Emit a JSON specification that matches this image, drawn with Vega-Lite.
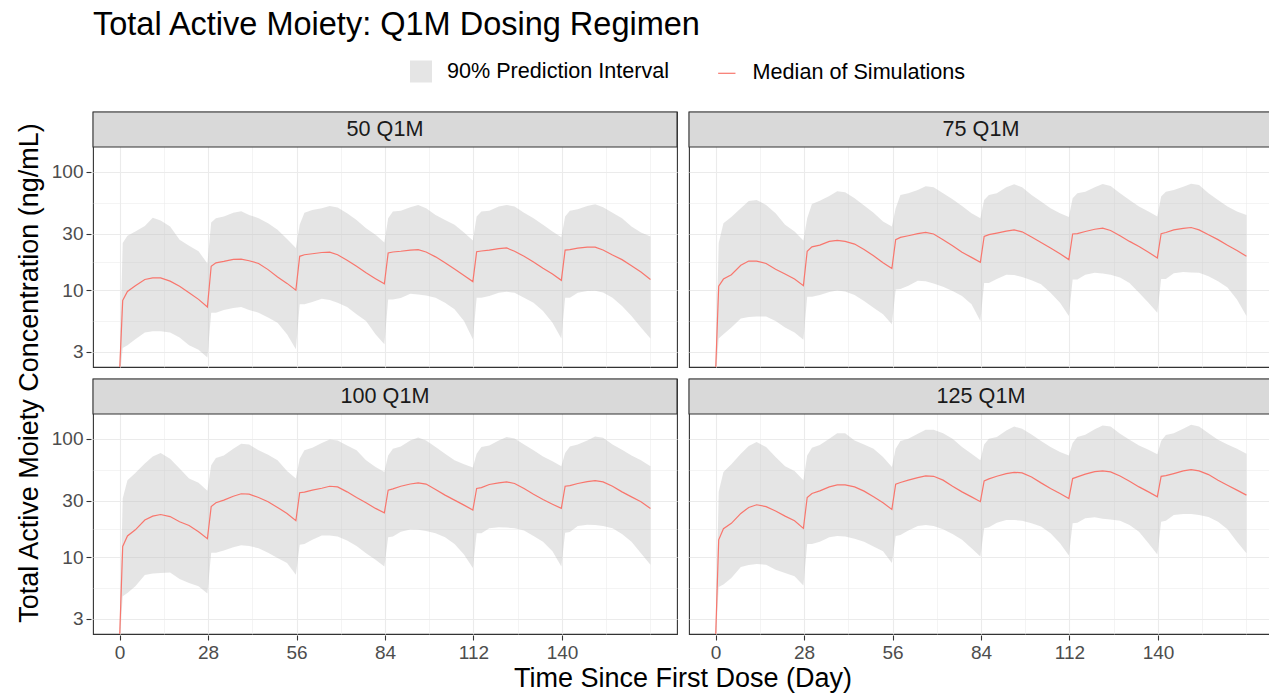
{
  "$schema": "https://vega.github.io/schema/vega-lite/v6.json",
  "background": "white",
  "padding": {"left": 15, "top": 9, "right": 0, "bottom": 2},
  "title": {"text": "Total Active Moiety: Q1M Dosing Regimen", "anchor": "start", "frame": "group", "fontSize": 32.5, "font": "Liberation Sans", "fontWeight": "normal", "color": "#000000", "offset": 19},
  "data": {"values": [
    {"panel":"50 Q1M","t":0,"m":2.0,"lo":1.8,"hi":2.2},
    {"panel":"50 Q1M","t":1,"m":8.19,"lo":3.24,"hi":25.0},
    {"panel":"50 Q1M","t":2.5,"m":9.75,"lo":3.42,"hi":28.8},
    {"panel":"50 Q1M","t":5,"m":10.9,"lo":3.85,"hi":31.3},
    {"panel":"50 Q1M","t":8,"m":12.3,"lo":4.38,"hi":34.9},
    {"panel":"50 Q1M","t":10.5,"m":12.7,"lo":4.49,"hi":40.8},
    {"panel":"50 Q1M","t":13,"m":12.7,"lo":4.49,"hi":38.7},
    {"panel":"50 Q1M","t":16,"m":11.9,"lo":4.38,"hi":34.5},
    {"panel":"50 Q1M","t":19,"m":10.8,"lo":3.98,"hi":26.7},
    {"panel":"50 Q1M","t":22,"m":9.5,"lo":3.42,"hi":23.7},
    {"panel":"50 Q1M","t":25,"m":8.35,"lo":3.13,"hi":21.3},
    {"panel":"50 Q1M","t":27.8,"m":7.19,"lo":2.7,"hi":16.8},
    {"panel":"50 Q1M","t":29,"m":15.9,"lo":6.45,"hi":37.3},
    {"panel":"50 Q1M","t":30.5,"m":17.0,"lo":6.45,"hi":40.5},
    {"panel":"50 Q1M","t":33,"m":17.5,"lo":6.79,"hi":41.9},
    {"panel":"50 Q1M","t":36,"m":18.2,"lo":7.06,"hi":45.0},
    {"panel":"50 Q1M","t":38.5,"m":18.3,"lo":7.19,"hi":46.4},
    {"panel":"50 Q1M","t":41,"m":17.7,"lo":6.79,"hi":43.2},
    {"panel":"50 Q1M","t":44,"m":16.8,"lo":6.45,"hi":40.5},
    {"panel":"50 Q1M","t":47,"m":14.9,"lo":5.86,"hi":36.8},
    {"panel":"50 Q1M","t":50,"m":12.9,"lo":5.31,"hi":32.3},
    {"panel":"50 Q1M","t":53,"m":11.4,"lo":4.24,"hi":27.0},
    {"panel":"50 Q1M","t":55.8,"m":10.0,"lo":3.17,"hi":22.7},
    {"panel":"50 Q1M","t":57,"m":19.3,"lo":7.58,"hi":35.6},
    {"panel":"50 Q1M","t":58.5,"m":19.9,"lo":7.58,"hi":45.0},
    {"panel":"50 Q1M","t":61,"m":20.3,"lo":7.93,"hi":47.6},
    {"panel":"50 Q1M","t":64,"m":20.8,"lo":8.46,"hi":49.2},
    {"panel":"50 Q1M","t":66.5,"m":20.9,"lo":8.24,"hi":51.5},
    {"panel":"50 Q1M","t":69,"m":19.9,"lo":7.83,"hi":49.8},
    {"panel":"50 Q1M","t":72,"m":17.9,"lo":7.19,"hi":44.7},
    {"panel":"50 Q1M","t":75,"m":15.9,"lo":6.25,"hi":39.2},
    {"panel":"50 Q1M","t":78,"m":14.0,"lo":5.49,"hi":33.4},
    {"panel":"50 Q1M","t":81,"m":12.5,"lo":4.24,"hi":29.4},
    {"panel":"50 Q1M","t":83.8,"m":11.3,"lo":3.49,"hi":25.3},
    {"panel":"50 Q1M","t":85,"m":20.6,"lo":8.35,"hi":40.5},
    {"panel":"50 Q1M","t":86.5,"m":21.0,"lo":8.35,"hi":46.1},
    {"panel":"50 Q1M","t":89,"m":21.3,"lo":8.57,"hi":46.9},
    {"panel":"50 Q1M","t":92,"m":21.8,"lo":9.32,"hi":50.2},
    {"panel":"50 Q1M","t":94.5,"m":22.0,"lo":9.2,"hi":52.5},
    {"panel":"50 Q1M","t":97,"m":21.0,"lo":9.02,"hi":49.2},
    {"panel":"50 Q1M","t":100,"m":19.1,"lo":8.62,"hi":43.2},
    {"panel":"50 Q1M","t":103,"m":17.0,"lo":7.83,"hi":39.2},
    {"panel":"50 Q1M","t":106,"m":15.1,"lo":6.88,"hi":35.6},
    {"panel":"50 Q1M","t":109,"m":13.3,"lo":5.49,"hi":30.7},
    {"panel":"50 Q1M","t":111.8,"m":11.8,"lo":3.85,"hi":26.3},
    {"panel":"50 Q1M","t":113,"m":21.1,"lo":8.62,"hi":41.9},
    {"panel":"50 Q1M","t":114.5,"m":21.4,"lo":8.62,"hi":46.1},
    {"panel":"50 Q1M","t":117,"m":21.8,"lo":8.9,"hi":46.9},
    {"panel":"50 Q1M","t":120,"m":22.4,"lo":9.5,"hi":50.8},
    {"panel":"50 Q1M","t":122.5,"m":22.7,"lo":9.69,"hi":52.5},
    {"panel":"50 Q1M","t":125,"m":21.3,"lo":9.5,"hi":50.8},
    {"panel":"50 Q1M","t":128,"m":19.3,"lo":8.62,"hi":45.0},
    {"panel":"50 Q1M","t":131,"m":17.3,"lo":7.83,"hi":40.5},
    {"panel":"50 Q1M","t":134,"m":15.3,"lo":6.66,"hi":35.6},
    {"panel":"50 Q1M","t":137,"m":13.7,"lo":5.31,"hi":31.3},
    {"panel":"50 Q1M","t":139.8,"m":12.1,"lo":3.9,"hi":28.0},
    {"panel":"50 Q1M","t":141,"m":21.8,"lo":8.62,"hi":41.9},
    {"panel":"50 Q1M","t":142.5,"m":22.0,"lo":8.62,"hi":46.9},
    {"panel":"50 Q1M","t":145,"m":22.6,"lo":9.5,"hi":48.2},
    {"panel":"50 Q1M","t":148,"m":23.1,"lo":9.81,"hi":51.5},
    {"panel":"50 Q1M","t":150.5,"m":23.1,"lo":9.88,"hi":53.2},
    {"panel":"50 Q1M","t":153,"m":21.8,"lo":9.56,"hi":50.2},
    {"panel":"50 Q1M","t":156,"m":19.8,"lo":8.62,"hi":45.0},
    {"panel":"50 Q1M","t":159,"m":18.1,"lo":7.34,"hi":40.5},
    {"panel":"50 Q1M","t":162,"m":16.1,"lo":6.05,"hi":34.5},
    {"panel":"50 Q1M","t":165,"m":14.2,"lo":4.83,"hi":30.7},
    {"panel":"50 Q1M","t":168,"m":12.3,"lo":3.9,"hi":28.4},

    {"panel":"75 Q1M","t":0,"m":2.0,"lo":1.8,"hi":2.2},
    {"panel":"75 Q1M","t":1,"m":10.8,"lo":3.9,"hi":25.0},
    {"panel":"75 Q1M","t":2.5,"m":12.4,"lo":4.24,"hi":36.8},
    {"panel":"75 Q1M","t":5,"m":13.5,"lo":4.83,"hi":41.4},
    {"panel":"75 Q1M","t":8,"m":16.2,"lo":5.75,"hi":49.2},
    {"panel":"75 Q1M","t":10.5,"m":17.6,"lo":5.93,"hi":56.7},
    {"panel":"75 Q1M","t":13,"m":17.6,"lo":5.97,"hi":57.8},
    {"panel":"75 Q1M","t":16,"m":16.8,"lo":5.97,"hi":52.5},
    {"panel":"75 Q1M","t":19,"m":15.0,"lo":5.49,"hi":44.7},
    {"panel":"75 Q1M","t":22,"m":13.7,"lo":4.83,"hi":35.6},
    {"panel":"75 Q1M","t":25,"m":12.4,"lo":4.38,"hi":31.3},
    {"panel":"75 Q1M","t":27.8,"m":10.9,"lo":3.8,"hi":26.2},
    {"panel":"75 Q1M","t":29,"m":21.3,"lo":8.79,"hi":40.5},
    {"panel":"75 Q1M","t":30.5,"m":23.2,"lo":8.79,"hi":53.5},
    {"panel":"75 Q1M","t":33,"m":24.0,"lo":9.08,"hi":57.0},
    {"panel":"75 Q1M","t":36,"m":25.8,"lo":9.62,"hi":62.5},
    {"panel":"75 Q1M","t":38.5,"m":26.3,"lo":9.93,"hi":68.4},
    {"panel":"75 Q1M","t":41,"m":25.8,"lo":9.75,"hi":67.0},
    {"panel":"75 Q1M","t":44,"m":24.5,"lo":9.08,"hi":59.7},
    {"panel":"75 Q1M","t":47,"m":22.0,"lo":8.09,"hi":51.8},
    {"panel":"75 Q1M","t":50,"m":19.5,"lo":7.1,"hi":45.0},
    {"panel":"75 Q1M","t":53,"m":17.0,"lo":6.25,"hi":38.0},
    {"panel":"75 Q1M","t":55.8,"m":15.2,"lo":5.15,"hi":34.5},
    {"panel":"75 Q1M","t":57,"m":26.7,"lo":10.1,"hi":49.2},
    {"panel":"75 Q1M","t":58.5,"m":27.9,"lo":10.2,"hi":63.7},
    {"panel":"75 Q1M","t":61,"m":28.8,"lo":10.9,"hi":65.8},
    {"panel":"75 Q1M","t":64,"m":30.0,"lo":12.0,"hi":70.1},
    {"panel":"75 Q1M","t":66.5,"m":30.7,"lo":11.9,"hi":75.3},
    {"panel":"75 Q1M","t":69,"m":29.8,"lo":11.4,"hi":73.9},
    {"panel":"75 Q1M","t":72,"m":26.7,"lo":10.7,"hi":65.8},
    {"panel":"75 Q1M","t":75,"m":23.7,"lo":9.81,"hi":58.5},
    {"panel":"75 Q1M","t":78,"m":20.9,"lo":8.9,"hi":51.5},
    {"panel":"75 Q1M","t":81,"m":18.9,"lo":7.58,"hi":44.7},
    {"panel":"75 Q1M","t":83.8,"m":17.2,"lo":5.49,"hi":40.5},
    {"panel":"75 Q1M","t":85,"m":28.4,"lo":11.5,"hi":57.8},
    {"panel":"75 Q1M","t":86.5,"m":29.4,"lo":11.5,"hi":63.7},
    {"panel":"75 Q1M","t":89,"m":30.3,"lo":12.4,"hi":65.8},
    {"panel":"75 Q1M","t":92,"m":31.5,"lo":13.5,"hi":73.9},
    {"panel":"75 Q1M","t":94.5,"m":32.3,"lo":13.4,"hi":78.3},
    {"panel":"75 Q1M","t":97,"m":31.1,"lo":12.9,"hi":73.9},
    {"panel":"75 Q1M","t":100,"m":28.1,"lo":12.1,"hi":63.7},
    {"panel":"75 Q1M","t":103,"m":25.3,"lo":11.2,"hi":56.0},
    {"panel":"75 Q1M","t":106,"m":22.7,"lo":9.5,"hi":49.2},
    {"panel":"75 Q1M","t":109,"m":20.3,"lo":7.83,"hi":44.7},
    {"panel":"75 Q1M","t":111.8,"m":18.1,"lo":6.05,"hi":41.4},
    {"panel":"75 Q1M","t":113,"m":29.8,"lo":12.3,"hi":59.7},
    {"panel":"75 Q1M","t":114.5,"m":30.0,"lo":12.3,"hi":65.8},
    {"panel":"75 Q1M","t":117,"m":31.3,"lo":13.5,"hi":67.9},
    {"panel":"75 Q1M","t":120,"m":32.7,"lo":14.0,"hi":73.9},
    {"panel":"75 Q1M","t":122.5,"m":33.4,"lo":13.8,"hi":78.8},
    {"panel":"75 Q1M","t":125,"m":31.9,"lo":13.5,"hi":75.8},
    {"panel":"75 Q1M","t":128,"m":28.8,"lo":12.8,"hi":65.8},
    {"panel":"75 Q1M","t":131,"m":25.8,"lo":11.5,"hi":57.8},
    {"panel":"75 Q1M","t":134,"m":23.4,"lo":9.5,"hi":50.8},
    {"panel":"75 Q1M","t":137,"m":20.9,"lo":7.83,"hi":46.1},
    {"panel":"75 Q1M","t":139.8,"m":18.7,"lo":6.45,"hi":41.9},
    {"panel":"75 Q1M","t":141,"m":30.0,"lo":12.4,"hi":61.7},
    {"panel":"75 Q1M","t":142.5,"m":30.7,"lo":12.4,"hi":67.9},
    {"panel":"75 Q1M","t":145,"m":32.3,"lo":13.9,"hi":70.1},
    {"panel":"75 Q1M","t":148,"m":33.2,"lo":14.2,"hi":74.8},
    {"panel":"75 Q1M","t":150.5,"m":33.8,"lo":14.1,"hi":79.3},
    {"panel":"75 Q1M","t":153,"m":32.3,"lo":14.0,"hi":77.3},
    {"panel":"75 Q1M","t":156,"m":29.4,"lo":13.1,"hi":65.8},
    {"panel":"75 Q1M","t":159,"m":26.7,"lo":11.9,"hi":57.8},
    {"panel":"75 Q1M","t":162,"m":23.9,"lo":10.5,"hi":50.8},
    {"panel":"75 Q1M","t":165,"m":21.6,"lo":8.35,"hi":46.1},
    {"panel":"75 Q1M","t":168,"m":19.3,"lo":6.05,"hi":43.2},

    {"panel":"100 Q1M","t":0,"m":2.0,"lo":1.8,"hi":2.2},
    {"panel":"100 Q1M","t":1,"m":12.3,"lo":4.67,"hi":31.3},
    {"panel":"100 Q1M","t":2.5,"m":15.1,"lo":4.98,"hi":44.7},
    {"panel":"100 Q1M","t":5,"m":17.0,"lo":5.67,"hi":51.5},
    {"panel":"100 Q1M","t":8,"m":20.6,"lo":7.06,"hi":61.7},
    {"panel":"100 Q1M","t":10.5,"m":22.2,"lo":7.27,"hi":71.0},
    {"panel":"100 Q1M","t":13,"m":22.9,"lo":7.34,"hi":75.8},
    {"panel":"100 Q1M","t":16,"m":22.0,"lo":7.42,"hi":67.9},
    {"panel":"100 Q1M","t":19,"m":19.9,"lo":6.53,"hi":56.0},
    {"panel":"100 Q1M","t":22,"m":18.5,"lo":6.05,"hi":46.1},
    {"panel":"100 Q1M","t":25,"m":16.4,"lo":5.67,"hi":42.4},
    {"panel":"100 Q1M","t":27.8,"m":14.3,"lo":4.92,"hi":36.3},
    {"panel":"100 Q1M","t":29,"m":26.7,"lo":10.9,"hi":59.7},
    {"panel":"100 Q1M","t":30.5,"m":28.8,"lo":10.9,"hi":68.8},
    {"panel":"100 Q1M","t":33,"m":30.3,"lo":11.4,"hi":72.4},
    {"panel":"100 Q1M","t":36,"m":32.7,"lo":12.1,"hi":82.4},
    {"panel":"100 Q1M","t":38.5,"m":34.3,"lo":12.6,"hi":90.8},
    {"panel":"100 Q1M","t":41,"m":34.0,"lo":12.4,"hi":89.6},
    {"panel":"100 Q1M","t":44,"m":31.9,"lo":11.9,"hi":79.8},
    {"panel":"100 Q1M","t":47,"m":29.4,"lo":10.9,"hi":73.4},
    {"panel":"100 Q1M","t":50,"m":26.3,"lo":9.81,"hi":65.8},
    {"panel":"100 Q1M","t":53,"m":23.4,"lo":8.9,"hi":53.5},
    {"panel":"100 Q1M","t":55.8,"m":20.3,"lo":7.1,"hi":46.1},
    {"panel":"100 Q1M","t":57,"m":35.0,"lo":12.7,"hi":67.9},
    {"panel":"100 Q1M","t":58.5,"m":35.4,"lo":12.9,"hi":79.8},
    {"panel":"100 Q1M","t":61,"m":36.8,"lo":14.0,"hi":84.0},
    {"panel":"100 Q1M","t":64,"m":38.2,"lo":15.2,"hi":91.9},
    {"panel":"100 Q1M","t":66.5,"m":39.7,"lo":15.2,"hi":98.7},
    {"panel":"100 Q1M","t":69,"m":39.2,"lo":14.9,"hi":96.8},
    {"panel":"100 Q1M","t":72,"m":35.6,"lo":13.8,"hi":87.9},
    {"panel":"100 Q1M","t":75,"m":31.9,"lo":12.4,"hi":79.8},
    {"panel":"100 Q1M","t":78,"m":28.8,"lo":10.8,"hi":65.8},
    {"panel":"100 Q1M","t":81,"m":25.8,"lo":9.5,"hi":57.8},
    {"panel":"100 Q1M","t":83.8,"m":23.7,"lo":8.35,"hi":52.5},
    {"panel":"100 Q1M","t":85,"m":36.8,"lo":14.7,"hi":72.4},
    {"panel":"100 Q1M","t":86.5,"m":37.7,"lo":14.9,"hi":82.4},
    {"panel":"100 Q1M","t":89,"m":39.7,"lo":16.4,"hi":86.2},
    {"panel":"100 Q1M","t":92,"m":41.5,"lo":17.1,"hi":96.8},
    {"panel":"100 Q1M","t":94.5,"m":42.4,"lo":17.0,"hi":102.6},
    {"panel":"100 Q1M","t":97,"m":41.4,"lo":16.6,"hi":96.8},
    {"panel":"100 Q1M","t":100,"m":37.3,"lo":15.9,"hi":85.1},
    {"panel":"100 Q1M","t":103,"m":33.4,"lo":14.7,"hi":74.8},
    {"panel":"100 Q1M","t":106,"m":30.3,"lo":12.9,"hi":65.8},
    {"panel":"100 Q1M","t":109,"m":27.5,"lo":10.5,"hi":60.9},
    {"panel":"100 Q1M","t":111.8,"m":25.0,"lo":8.09,"hi":57.1},
    {"panel":"100 Q1M","t":113,"m":38.0,"lo":15.9,"hi":74.8},
    {"panel":"100 Q1M","t":114.5,"m":38.7,"lo":15.9,"hi":85.1},
    {"panel":"100 Q1M","t":117,"m":41.1,"lo":17.5,"hi":87.9},
    {"panel":"100 Q1M","t":120,"m":42.4,"lo":17.9,"hi":96.8},
    {"panel":"100 Q1M","t":122.5,"m":43.2,"lo":17.8,"hi":103.3},
    {"panel":"100 Q1M","t":125,"m":41.9,"lo":17.5,"hi":100.6},
    {"panel":"100 Q1M","t":128,"m":38.0,"lo":16.8,"hi":89.6},
    {"panel":"100 Q1M","t":131,"m":34.0,"lo":15.1,"hi":79.8},
    {"panel":"100 Q1M","t":134,"m":30.7,"lo":13.5,"hi":71.0},
    {"panel":"100 Q1M","t":137,"m":28.0,"lo":11.2,"hi":64.5},
    {"panel":"100 Q1M","t":139.8,"m":25.8,"lo":8.35,"hi":58.5},
    {"panel":"100 Q1M","t":141,"m":39.7,"lo":16.1,"hi":75.8},
    {"panel":"100 Q1M","t":142.5,"m":40.2,"lo":16.3,"hi":86.2},
    {"panel":"100 Q1M","t":145,"m":41.9,"lo":18.3,"hi":89.6},
    {"panel":"100 Q1M","t":148,"m":43.5,"lo":18.8,"hi":96.8},
    {"panel":"100 Q1M","t":150.5,"m":44.3,"lo":18.7,"hi":104.6},
    {"panel":"100 Q1M","t":153,"m":43.2,"lo":18.3,"hi":102.0},
    {"panel":"100 Q1M","t":156,"m":39.7,"lo":17.5,"hi":89.6},
    {"panel":"100 Q1M","t":159,"m":35.6,"lo":15.7,"hi":80.8},
    {"panel":"100 Q1M","t":162,"m":32.3,"lo":13.5,"hi":72.4},
    {"panel":"100 Q1M","t":165,"m":29.4,"lo":10.8,"hi":65.8},
    {"panel":"100 Q1M","t":168,"m":25.8,"lo":8.62,"hi":58.5},

    {"panel":"125 Q1M","t":0,"m":2.0,"lo":1.8,"hi":2.2},
    {"panel":"125 Q1M","t":1,"m":14.0,"lo":5.6,"hi":35.6},
    {"panel":"125 Q1M","t":2.5,"m":17.4,"lo":5.86,"hi":52.5},
    {"panel":"125 Q1M","t":5,"m":19.3,"lo":6.66,"hi":60.9},
    {"panel":"125 Q1M","t":8,"m":23.4,"lo":8.24,"hi":74.8},
    {"panel":"125 Q1M","t":10.5,"m":26.3,"lo":8.57,"hi":86.8},
    {"panel":"125 Q1M","t":13,"m":27.7,"lo":8.74,"hi":93.8},
    {"panel":"125 Q1M","t":16,"m":26.7,"lo":8.62,"hi":85.1},
    {"panel":"125 Q1M","t":19,"m":24.5,"lo":7.83,"hi":70.1},
    {"panel":"125 Q1M","t":22,"m":22.2,"lo":7.34,"hi":58.5},
    {"panel":"125 Q1M","t":25,"m":20.3,"lo":6.88,"hi":53.5},
    {"panel":"125 Q1M","t":27.8,"m":17.5,"lo":5.75,"hi":44.7},
    {"panel":"125 Q1M","t":29,"m":31.9,"lo":12.9,"hi":72.4},
    {"panel":"125 Q1M","t":30.5,"m":34.5,"lo":12.9,"hi":84.0},
    {"panel":"125 Q1M","t":33,"m":36.3,"lo":13.5,"hi":88.5},
    {"panel":"125 Q1M","t":36,"m":39.2,"lo":14.7,"hi":100.0},
    {"panel":"125 Q1M","t":38.5,"m":40.8,"lo":15.1,"hi":111.6},
    {"panel":"125 Q1M","t":41,"m":40.8,"lo":14.9,"hi":111.6},
    {"panel":"125 Q1M","t":44,"m":39.2,"lo":14.3,"hi":96.8},
    {"panel":"125 Q1M","t":47,"m":36.1,"lo":13.5,"hi":89.6},
    {"panel":"125 Q1M","t":50,"m":32.3,"lo":12.3,"hi":82.4},
    {"panel":"125 Q1M","t":53,"m":28.8,"lo":11.2,"hi":70.1},
    {"panel":"125 Q1M","t":55.8,"m":25.3,"lo":8.9,"hi":57.8},
    {"panel":"125 Q1M","t":57,"m":41.4,"lo":15.1,"hi":82.4},
    {"panel":"125 Q1M","t":58.5,"m":42.7,"lo":15.4,"hi":95.6},
    {"panel":"125 Q1M","t":61,"m":44.7,"lo":16.8,"hi":100.0},
    {"panel":"125 Q1M","t":64,"m":47.0,"lo":18.3,"hi":110.2},
    {"panel":"125 Q1M","t":66.5,"m":48.5,"lo":18.7,"hi":119.0},
    {"panel":"125 Q1M","t":69,"m":48.2,"lo":18.3,"hi":119.0},
    {"panel":"125 Q1M","t":72,"m":44.7,"lo":17.2,"hi":111.6},
    {"panel":"125 Q1M","t":75,"m":39.7,"lo":15.7,"hi":100.0},
    {"panel":"125 Q1M","t":78,"m":35.6,"lo":14.0,"hi":85.1},
    {"panel":"125 Q1M","t":81,"m":32.3,"lo":11.9,"hi":74.8},
    {"panel":"125 Q1M","t":83.8,"m":29.4,"lo":10.1,"hi":65.8},
    {"panel":"125 Q1M","t":85,"m":44.0,"lo":17.5,"hi":89.6},
    {"panel":"125 Q1M","t":86.5,"m":45.8,"lo":17.9,"hi":100.0},
    {"panel":"125 Q1M","t":89,"m":48.2,"lo":19.5,"hi":103.3},
    {"panel":"125 Q1M","t":92,"m":50.8,"lo":20.6,"hi":117.5},
    {"panel":"125 Q1M","t":94.5,"m":52.1,"lo":20.6,"hi":127.0},
    {"panel":"125 Q1M","t":97,"m":51.5,"lo":20.3,"hi":121.3},
    {"panel":"125 Q1M","t":100,"m":47.6,"lo":19.3,"hi":108.7},
    {"panel":"125 Q1M","t":103,"m":42.4,"lo":18.1,"hi":95.6},
    {"panel":"125 Q1M","t":106,"m":38.0,"lo":15.9,"hi":85.1},
    {"panel":"125 Q1M","t":109,"m":34.5,"lo":13.1,"hi":77.3},
    {"panel":"125 Q1M","t":111.8,"m":31.3,"lo":10.3,"hi":72.4},
    {"panel":"125 Q1M","t":113,"m":46.1,"lo":19.3,"hi":91.9},
    {"panel":"125 Q1M","t":114.5,"m":47.6,"lo":19.5,"hi":103.3},
    {"panel":"125 Q1M","t":117,"m":50.2,"lo":21.3,"hi":108.0},
    {"panel":"125 Q1M","t":120,"m":52.8,"lo":21.7,"hi":120.5},
    {"panel":"125 Q1M","t":122.5,"m":53.5,"lo":21.1,"hi":129.4},
    {"panel":"125 Q1M","t":125,"m":52.5,"lo":20.8,"hi":127.0},
    {"panel":"125 Q1M","t":128,"m":48.5,"lo":20.3,"hi":110.2},
    {"panel":"125 Q1M","t":131,"m":43.8,"lo":18.7,"hi":98.1},
    {"panel":"125 Q1M","t":134,"m":39.2,"lo":16.4,"hi":87.9},
    {"panel":"125 Q1M","t":137,"m":35.6,"lo":13.1,"hi":80.8},
    {"panel":"125 Q1M","t":139.8,"m":32.3,"lo":10.5,"hi":73.9},
    {"panel":"125 Q1M","t":141,"m":48.2,"lo":19.9,"hi":95.6},
    {"panel":"125 Q1M","t":142.5,"m":48.8,"lo":20.3,"hi":107.4},
    {"panel":"125 Q1M","t":145,"m":50.8,"lo":22.7,"hi":111.6},
    {"panel":"125 Q1M","t":148,"m":53.5,"lo":23.1,"hi":121.3},
    {"panel":"125 Q1M","t":150.5,"m":54.9,"lo":23.1,"hi":131.2},
    {"panel":"125 Q1M","t":153,"m":53.5,"lo":22.7,"hi":127.0},
    {"panel":"125 Q1M","t":156,"m":49.8,"lo":21.8,"hi":111.6},
    {"panel":"125 Q1M","t":159,"m":44.7,"lo":19.9,"hi":98.1},
    {"panel":"125 Q1M","t":162,"m":40.5,"lo":17.2,"hi":89.6},
    {"panel":"125 Q1M","t":165,"m":36.8,"lo":13.5,"hi":82.4},
    {"panel":"125 Q1M","t":168,"m":33.4,"lo":10.8,"hi":74.8}
  ]},
  "transform": [
    {"calculate": "(datum.panel == '50 Q1M' || datum.panel == '75 Q1M') ? 'top' : 'bottom'", "as": "prow"},
    {"calculate": "(datum.panel == '50 Q1M' || datum.panel == '100 Q1M') ? 'left' : 'right'", "as": "pcol"}
  ],
  "facet": {
    "row": {"field": "prow", "type": "nominal", "sort": ["top", "bottom"], "title": "Total Active Moiety Concentration (ng/mL)",
      "header": {"labels": false, "titleOrient": "left", "titleFontSize": 27, "titleFont": "Liberation Sans", "titleFontWeight": "normal", "titleColor": "#000000", "titlePadding": -3}},
    "column": {"field": "pcol", "type": "nominal", "sort": ["left", "right"], "title": "Time Since First Dose (Day)",
      "header": {"labels": false, "titleOrient": "bottom", "titleFontSize": 27, "titleFont": "Liberation Sans", "titleFontWeight": "normal", "titleColor": "#000000", "titlePadding": -6}}
  },
  "spacing": {"row": 9, "column": 8},
  "spec": {
    "width": 584,
    "height": 255,
    "layer": [
      {
        "mark": {"type": "area", "clip": true, "opacity": 0.4},
        "encoding": {
          "x": {"field": "t", "type": "quantitative", "scale": {"domain": [-8.4, 176.4], "nice": false, "zero": false},
            "axis": {"title": null, "values": [0, 14, 28, 42, 56, 70, 84, 98, 112, 126, 140, 154, 168],
              "labelExpr": "(datum.value % 28 == 0 && datum.value <= 140) ? format(datum.value, 'd') : ''",
              "gridWidth": {"condition": {"test": "datum.value % 28 == 0 && datum.value <= 140", "value": 1.1}, "value": 0.55},
              "tickOpacity": {"condition": {"test": "datum.value % 28 == 0 && datum.value <= 140", "value": 1}, "value": 0}}},
          "y": {"field": "lo", "type": "quantitative", "scale": {"type": "log", "domain": [2.24, 320], "nice": false},
            "axis": {"title": null, "values": [3, 5.4772, 10, 17.3205, 30, 54.772, 100],
              "labelExpr": "indexof([3, 10, 30, 100], datum.value) >= 0 ? format(datum.value, 'd') : ''",
              "gridWidth": {"condition": {"test": "indexof([3, 10, 30, 100], datum.value) >= 0", "value": 1.1}, "value": 0.55},
              "tickOpacity": {"condition": {"test": "indexof([3, 10, 30, 100], datum.value) >= 0", "value": 1}, "value": 0}}},
          "y2": {"field": "hi"},
          "fill": {"datum": "90% Prediction Interval", "type": "nominal", "scale": {"range": ["#bebebe"]},
            "legend": {"title": null, "orient": "none", "legendX": 317, "legendY": -51.5, "symbolType": "square", "symbolSize": 484, "symbolOpacity": 0.4, "symbolStrokeWidth": 0, "labelFontSize": 21.6, "labelFont": "Liberation Sans", "labelColor": "#000000", "labelOffset": 15, "labelLimit": 0}}
        }
      },
      {
        "mark": {"type": "line", "clip": true, "strokeWidth": 1.2},
        "encoding": {
          "x": {"field": "t", "type": "quantitative", "axis": {"title": null}},
          "y": {"field": "m", "type": "quantitative", "axis": {"title": null}},
          "stroke": {"datum": "Median of Simulations", "type": "nominal", "scale": {"range": ["#F8766D"]},
            "legend": {"title": null, "orient": "none", "legendX": 623, "legendY": -49.5, "symbolType": "stroke", "symbolSize": 300, "symbolStrokeWidth": 1.2, "labelFontSize": 21.6, "labelFont": "Liberation Sans", "labelColor": "#000000", "labelOffset": 15, "labelLimit": 0}}
        }
      },
      {
        "transform": [{"filter": "datum.t == 0"}],
        "mark": {"type": "rect", "fill": "#d9d9d9", "stroke": "#333333", "strokeWidth": 1.1},
        "encoding": {
          "y": {"datum": 162, "type": "quantitative", "axis": {"title": null}},
          "y2": {"datum": 320}
        }
      },
      {
        "transform": [{"filter": "datum.t == 0"}],
        "mark": {"type": "text", "fontSize": 21.6, "font": "Liberation Sans", "color": "#1a1a1a", "baseline": "middle", "align": "center"},
        "encoding": {
          "text": {"field": "panel", "type": "nominal"},
          "y": {"datum": 227, "type": "quantitative", "axis": {"title": null}}
        }
      }
    ]
  },
  "config": {
    "font": "Liberation Sans",
    "view": {"stroke": "#333333", "strokeWidth": 1.1},
    "axis": {
      "domain": false,
      "gridColor": "#ebebeb",
      "tickColor": "#333333",
      "tickSize": 5,
      "tickWidth": 1.1,
      "labelColor": "#4d4d4d",
      "labelFontSize": 19,
      "labelFont": "Liberation Sans",
      "labelPadding": 3
    }
  }
}
